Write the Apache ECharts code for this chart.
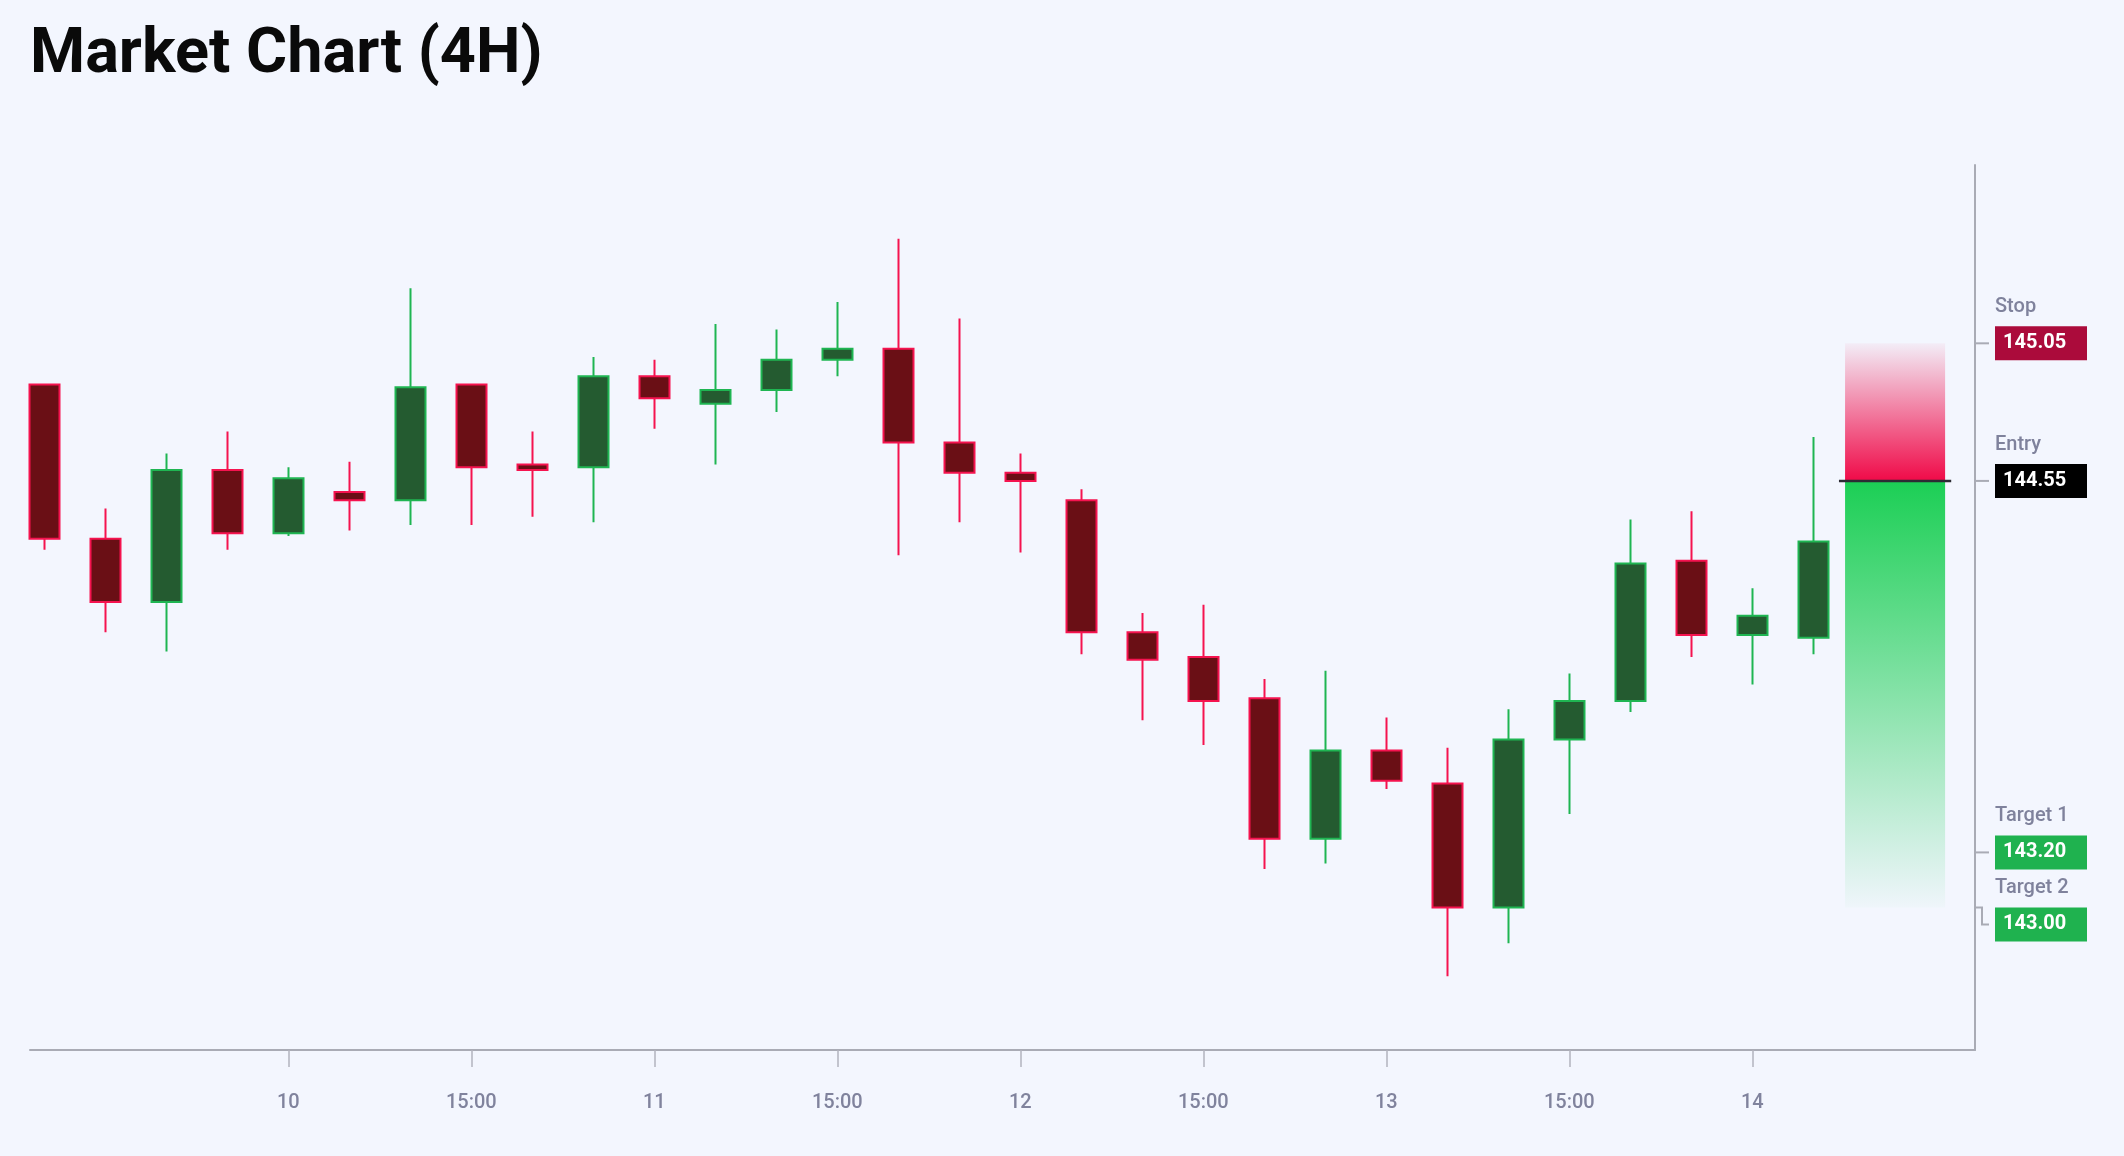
<!DOCTYPE html>
<html>
<head>
<meta charset="utf-8">
<script src="https://cdn.jsdelivr.net/npm/echarts@6/dist/echarts.min.js"></script>
<style>
html,body{margin:0;padding:0;background:#f3f6fe;}
#c{width:2124px;height:1156px;}
</style>
</head>
<body>
<div id="c"></div>
<script>
// ---- data ----
const candleIndex = [0,1,2,3,4,5,6,7,8,9,10,11,12,13,14,15,16,17,18,19,20,21,22,23,24,25,26,27,28,29];
const opens  = [144.90,144.34,144.11,144.59,144.36,144.51,144.48,144.90,144.61,144.60,144.93,144.83,144.88,144.99,145.03,144.69,144.58,144.48,144.00,143.91,143.76,143.25,143.57,143.45,143.00,143.61,143.75,144.26,143.99,143.98];
const closes = [144.34,144.11,144.59,144.36,144.56,144.48,144.89,144.60,144.59,144.93,144.85,144.88,144.99,145.03,144.69,144.58,144.55,144.00,143.90,143.75,143.25,143.57,143.46,143.00,143.61,143.75,144.25,143.99,144.06,144.33];
const lows   = [144.30,144.00,143.93,144.30,144.35,144.37,144.39,144.39,144.42,144.40,144.74,144.61,144.80,144.93,144.28,144.40,144.29,143.92,143.68,143.59,143.14,143.16,143.43,142.75,142.87,143.34,143.71,143.91,143.81,143.92];
const highs  = [144.90,144.45,144.65,144.73,144.60,144.62,145.25,144.90,144.73,145.00,144.99,145.12,145.10,145.20,145.43,145.14,144.65,144.52,144.07,144.10,143.83,143.86,143.69,143.58,143.72,143.85,144.41,144.44,144.16,144.71];

const tickIndex  = [4,7,10,13,16,19,22,25,28];
const tickLabels = ['10','15:00','11','15:00','12','15:00','13','15:00','14'];

const levelNames  = ['Stop','Entry','Target 1','Target 2'];
const levelValues = [145.05,144.55,143.20,143.00];

// ---- styles / layout ----
const levelColors = ['#ab0b3b','#000000','#1fb24f','#1fb24f'];
const stopPrice = levelValues[0], entryPrice = levelValues[1], lastTarget = levelValues[3];
const zoneX = [29.52, 31.16];
const entryLineX = [29.42, 31.26];

const lo = Math.min(...lows), hi = Math.max(...highs);
const pad = (hi - lo) * 0.1;

const chart = echarts.init(document.getElementById('c'), null, {renderer:'canvas'});

const option = {
  backgroundColor:'#f3f6fe',
  animation:false,
  title:{
    text:'Market Chart (4H)',
    left:25, top:20,
    textStyle:{fontFamily:'Roboto', fontWeight:700, fontSize:63, color:'#0a0a0a'}
  },
  grid:{left:30, right:149, top:165, bottom:106},
  xAxis:{
    type:'value',
    min:-0.234, max:31.65,
    splitLine:{show:false},
    axisLine:{show:true, onZero:false, lineStyle:{color:'#a9abb5', width:2}},
    axisTick:{show:true, customValues:tickIndex, length:17, lineStyle:{color:'#b2b4be', width:1.5}},
    axisLabel:{
      show:true, customValues:tickIndex, margin:43,
      fontFamily:'Roboto', fontWeight:500, fontSize:20, color:'#80839d',
      formatter:function(v){ const k = tickIndex.indexOf(Math.round(v)); return k >= 0 ? tickLabels[k] : ''; }
    }
  },
  yAxis:{
    type:'value',
    position:'right',
    min: lo - pad, max: hi + pad,
    splitLine:{show:false},
    axisLine:{show:true, onZero:false, lineStyle:{color:'#a9abb5', width:2}},
    axisTick:{show:false},
    axisLabel:{show:false}
  },
  series:[
    {
      type:'candlestick',
      data: candleIndex.map((x,i)=>[x, opens[i], closes[i], lows[i], highs[i]]),
      encode:{x:0, y:[1,2,3,4]},
      barWidth:30,
      itemStyle:{
        color:'#245b30', color0:'#6a0f15',
        borderColor:'#1fb552', borderColor0:'#f5134f',
        borderWidth:2
      },
      markArea:{
        silent:true,
        data:[
          [{xAxis:zoneX[0], yAxis:stopPrice, itemStyle:{color:new echarts.graphic.LinearGradient(0,0,0,1,[
              {offset:0,color:'rgba(240,10,72,0.04)'},{offset:1,color:'rgba(240,10,72,1)'}])}},
           {xAxis:zoneX[1], yAxis:entryPrice}],
          [{xAxis:zoneX[0], yAxis:entryPrice, itemStyle:{color:new echarts.graphic.LinearGradient(0,0,0,1,[
              {offset:0,color:'rgba(28,207,85,1)'},{offset:1,color:'rgba(28,207,85,0.02)'}])}},
           {xAxis:zoneX[1], yAxis:lastTarget}]
        ]
      }
    },
    {
      type:'line',
      data:[[entryLineX[0], entryPrice],[entryLineX[1], entryPrice]],
      symbol:'none',
      z:5,
      lineStyle:{color:'#2c2c34', width:2.5}
    }
  ]
};
chart.setOption(option);

// ---- right-side level labels ----
function drawLevels(){
  const axisX = chart.convertToPixel({xAxisIndex:0}, 31.65);
  const g = [];
  let prevBottom = -1e9;
  const boxH = 34, boxW = 92, gap = 38, boxLeft = axisX + 20;
  levelValues.forEach((v, i) => {
    const y = chart.convertToPixel({yAxisIndex:0}, v);
    let top = y - boxH/2;
    if (top < prevBottom + gap) top = prevBottom + gap;
    const cy = top + boxH/2;
    if (Math.abs(cy - y) < 0.5) {
      g.push({type:'line', shape:{x1:axisX, y1:y, x2:axisX+14, y2:y}, style:{stroke:'#a9abb5', lineWidth:2}, z:10});
    } else {
      g.push({type:'polyline', shape:{points:[[axisX,y],[axisX+7,y],[axisX+7,cy],[axisX+14,cy]]}, style:{stroke:'#a9abb5', lineWidth:2, fill:null}, z:10});
    }
    g.push({type:'rect', shape:{x:boxLeft, y:top, width:boxW, height:boxH}, style:{fill:levelColors[i]}, z:10});
    g.push({type:'text', x:boxLeft+8, y:cy, style:{text:v.toFixed(2), fill:'#ffffff', font:'700 20px Roboto', textVerticalAlign:'middle', textAlign:'left'}, z:11});
    g.push({type:'text', x:boxLeft, y:top-19, style:{text:levelNames[i], fill:'#7f829c', font:'500 20px Roboto', textVerticalAlign:'middle', textAlign:'left'}, z:11});
    prevBottom = top + boxH;
  });
  chart.setOption({graphic:g});
}
drawLevels();
</script>
</body>
</html>
